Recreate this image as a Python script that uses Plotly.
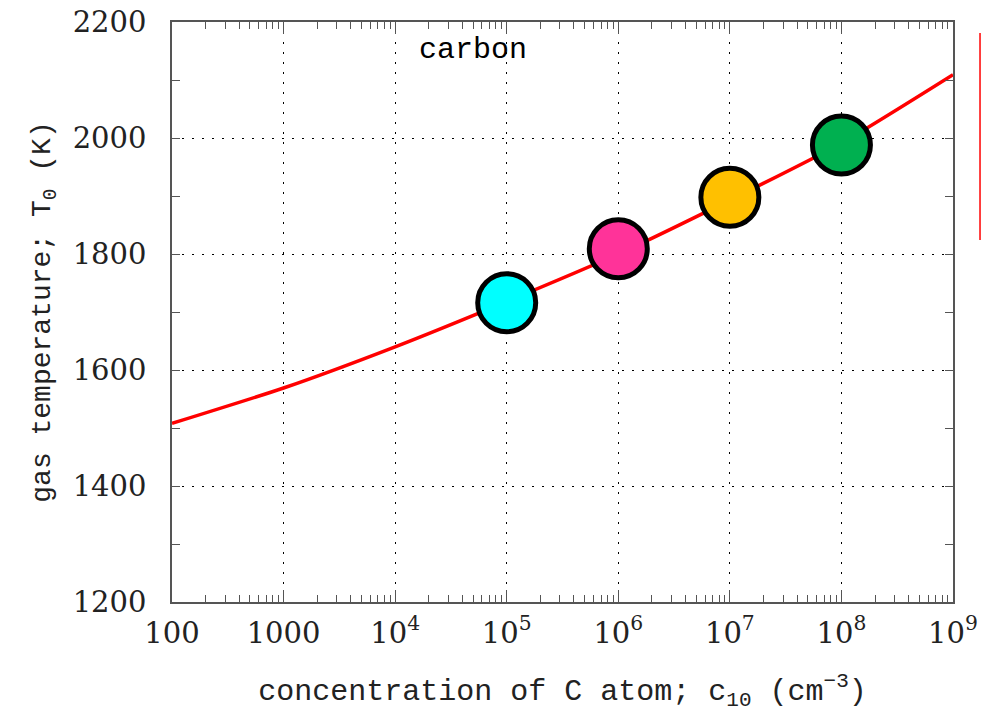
import plotly.graph_objects as go

# Data
curve_x = [1e2, 1e3, 1e4, 1e5, 1e6, 1e7, 1e8, 1e9]
curve_T = [1508, 1569, 1640, 1718, 1800, 1893, 1991, 2109]

pts_x = [1e5, 1e6, 1e7, 1e8]
pts_T = [1716, 1809, 1898, 1988]
pts_colors = ["#00FFFF", "#FF3399", "#FFC000", "#00B050"]

x_tickvals = [1e2, 1e3, 1e4, 1e5, 1e6, 1e7, 1e8, 1e9]
x_ticktext = ["100", "1000", "10<sup>4</sup>", "10<sup>5</sup>", "10<sup>6</sup>",
              "10<sup>7</sup>", "10<sup>8</sup>", "10<sup>9</sup>"]
y_tickvals = [1200, 1400, 1600, 1800, 2000, 2200]

x_minor = [m * 10 ** e for e in range(2, 9) for m in range(2, 10)]

fig = go.Figure()
fig.add_trace(go.Scatter(x=curve_x, y=curve_T, mode="lines",
                         line=dict(color="#FF0000", width=3.5, shape="spline", smoothing=0.6),
                         showlegend=False, hoverinfo="skip"))
fig.add_trace(go.Scatter(x=pts_x, y=pts_T, mode="markers",
                         marker=dict(size=58, color=pts_colors, line=dict(color="black", width=5)),
                         showlegend=False))

tick_font = dict(family="DejaVu Serif", size=29, color="#222")

fig.update_xaxes(type="log", range=[2, 9], tickmode="array", tickvals=x_tickvals, ticktext=x_ticktext,
                 ticks="inside", ticklen=12, tickcolor="#555", tickwidth=1,
                 showline=True, linecolor="#555", linewidth=1.5, mirror="allticks",
                 showgrid=True, gridcolor="black", gridwidth=1.2, griddash="2px,8px",
                 minor=dict(tickmode="array", tickvals=x_minor, ticks="inside", ticklen=7,
                            tickcolor="#555", tickwidth=1, showgrid=False),
                 tickfont=tick_font, zeroline=False, automargin=False, ticklabelstandoff=4,
                 title=dict(text="concentration of C atom; c<sub>10</sub> (cm<sup>−3</sup>)",
                            font=dict(family="Liberation Mono", size=30, color="#222"), standoff=30))
fig.update_yaxes(range=[1200, 2200], tickmode="array", tickvals=y_tickvals,
                 ticks="inside", ticklen=8, tickcolor="#555", tickwidth=1,
                 showline=True, linecolor="#555", linewidth=1.5, mirror="allticks",
                 showgrid=True, gridcolor="black", gridwidth=1.2, griddash="2px,8px",
                 minor=dict(dtick=100, ticks="inside", ticklen=8, tickcolor="#555",
                            tickwidth=1, showgrid=False),
                 tickfont=tick_font, zeroline=False, automargin=False, ticklabelstandoff=18,
                 title=dict(text="gas temperature; T<sub>0</sub> (K)",
                            font=dict(family="Liberation Mono", size=28, color="#222"), standoff=14))

fig.add_annotation(text="carbon", xref="paper", yref="paper", x=0.385, y=0.952,
                   xanchor="center", yanchor="middle", showarrow=False,
                   font=dict(family="Liberation Mono", size=30, color="black"))

fig.add_shape(type="line", xref="paper", yref="paper", x0=1.0346, x1=1.0346, y0=0.624, y1=0.981,
              line=dict(color="#FF0000", width=1.5))

fig.update_layout(width=981, height=712, margin=dict(l=172, r=28, t=22, b=110),
                  plot_bgcolor="white", paper_bgcolor="white")

fig.write_html("out.html")
